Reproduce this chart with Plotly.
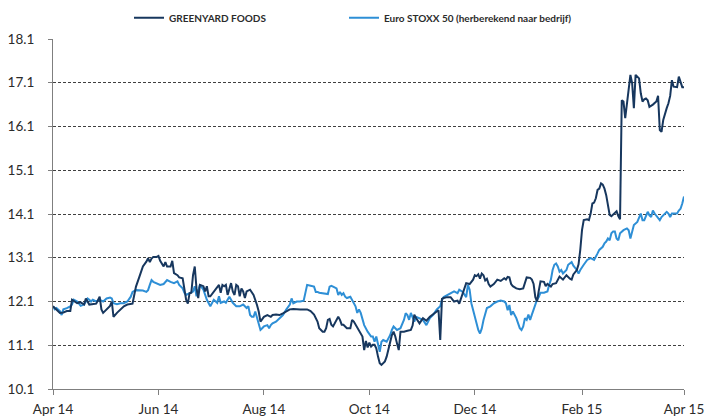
import pandas as pd
import plotly.graph_objects as go

START = "2014-04-01"

# Greenyard Foods: day offset from 1 Apr 2014, share price
gy_days = [0,2,4,6,8,10,11,14,16,18,19,21,23,25,27,28,29,31,33,34,35,37,39,41,43,45,46,47,48,50,52,54,55,56,57,58,60,61,62,64,65,66,68,69,70,72,73,75,76,77,78,79,80,81,82,83,84,85,87,88,89,90,91,93,95,96,97,98,99,100,101,102,103,104,105,106,107,108,109,110,111,112,114,116,117,118,119,120,122,124,126,127,129,131,133,135,137,139,141,143,145,147,149,151,153,154,156,157,158,159,160,161,162,163,164,165,166,167,168,169,170,172,173,174,175,176,178,179,180,181,182,183,184,185,186,187,188,189,190,191,192,193,194,195,196,197,198,199,200,201,203,205,207,208,209,210,212,214,216,218,220,222,223,224,225,226,228,230,232,234,235,237,239,241,243,244,245,246,247,248,249,250,251,252,253,255,257,259,261,262,263,264,265,266,268,270,272,274,276,277,278,279,280,281,282,284,285,286,288,289,291,293,295,297,298,299,300,301,303,304,305,306,307,309,310,311,312,313,314,315,316,317,318,319,320,321,322,323,324,325,326,327,328,329,330,331,332,333,334,335,336,337,339,340,341,342,343,344,345,347,349,350,351,352,353,355,356,357,358,359,360,361,362,364,365]
gy_values = [11.99,11.92,11.84,11.85,11.88,11.88,12.14,12.06,12.08,12.03,12.17,12.03,12.04,12.05,12.21,11.92,11.84,11.92,12.0,12.1,11.75,11.84,11.92,11.99,12.03,12.04,12.05,12.25,12.44,12.67,12.9,13.01,13.09,13.0,13.08,13.12,13.12,13.14,13.03,12.9,13.0,12.9,12.9,13.03,12.75,12.7,12.65,12.63,12.4,12.14,12.05,12.29,12.3,12.7,12.9,12.4,12.18,12.48,12.45,12.33,12.45,12.22,12.22,12.33,12.45,12.48,12.3,12.48,12.45,12.48,12.25,12.4,12.52,12.33,12.25,12.48,12.45,12.22,12.4,12.33,12.18,12.33,12.37,12.25,12.14,12.02,11.87,11.64,11.75,11.79,11.75,11.79,11.8,11.79,11.83,11.87,11.92,11.93,11.92,11.92,11.92,11.92,11.88,11.8,11.64,11.49,11.41,11.41,11.49,11.68,11.7,11.57,11.53,11.6,11.68,11.75,11.68,11.57,11.57,11.53,11.49,11.49,11.68,11.64,11.57,11.53,11.38,11.3,10.99,11.2,11.05,11.16,11.07,11.11,11.11,11.03,10.84,10.69,10.65,10.69,10.73,10.84,10.99,11.2,11.33,11.41,11.3,11.14,10.99,11.41,11.41,11.43,11.45,11.55,11.8,11.72,11.6,11.72,11.66,11.75,11.82,11.87,11.9,11.22,12.16,12.18,12.2,12.2,12.1,12.12,12.05,12.3,12.52,12.5,12.6,12.7,12.68,12.72,12.62,12.74,12.7,12.58,12.62,12.5,12.44,12.5,12.6,12.57,12.63,12.6,12.66,12.65,12.5,12.45,12.4,12.38,12.4,12.65,12.64,12.6,12.5,12.2,12.1,12.35,12.56,12.55,12.45,12.5,12.44,12.5,12.52,12.67,12.6,12.7,12.65,12.62,12.6,12.72,12.82,12.95,13.28,13.73,13.96,13.98,13.96,14.11,14.34,14.36,14.46,14.65,14.68,14.8,14.77,14.68,14.53,14.27,14.08,14.05,14.08,14.12,14.16,14.05,13.98,16.7,16.67,16.29,16.6,16.86,17.28,17.09,16.52,17.28,17.2,16.86,16.67,16.72,16.74,16.7,16.55,16.6,16.67,16.8,16.02,15.98,16.25,16.52,16.63,16.8,17.16,17.01,17.0,17.0,17.24,17.0,17.0,16.92]

# Euro STOXX 50 (rebased to company)
es_days = [0,1,2,4,5,6,8,10,11,12,14,16,18,19,20,21,22,23,25,27,29,31,33,34,35,37,39,41,43,45,46,48,50,52,54,55,56,57,58,60,62,64,66,68,70,72,73,75,76,77,79,81,82,83,85,87,89,91,93,95,96,97,99,100,102,104,106,108,110,112,113,114,115,116,117,118,119,120,121,122,124,125,126,127,129,131,133,135,137,138,139,141,143,145,146,147,149,151,152,153,154,156,158,159,160,161,162,164,165,166,167,168,169,170,172,173,174,175,176,177,178,179,180,182,184,185,186,187,188,189,190,191,193,195,196,197,199,201,203,204,205,206,207,209,210,212,214,216,218,220,222,224,225,226,228,230,232,234,235,237,239,240,241,242,243,244,245,246,247,248,249,250,251,253,255,257,259,261,262,263,264,265,266,268,269,270,271,272,273,274,275,276,277,278,279,280,281,282,284,286,287,288,289,290,291,292,293,294,295,296,297,298,299,300,301,303,304,305,307,309,311,313,315,316,318,319,320,321,322,323,324,325,326,327,328,330,332,333,334,335,336,338,339,340,341,342,344,345,346,347,348,350,351,352,354,355,356,357,358,360,361,362,363,364,365]
es_values = [11.99,11.92,11.95,11.88,11.79,11.92,11.95,11.99,12.03,12.14,12.1,12.0,12.03,12.1,12.17,12.14,12.1,12.14,12.1,12.14,12.1,12.17,12.19,12.17,12.06,12.04,12.06,12.06,12.1,12.21,12.32,12.36,12.36,12.35,12.32,12.36,12.48,12.59,12.55,12.52,12.48,12.5,12.59,12.55,12.52,12.56,12.48,12.4,12.3,12.25,12.3,12.33,12.45,12.22,12.48,12.37,12.14,11.99,12.14,12.07,12.22,12.07,12.1,12.07,12.21,12.07,11.99,11.99,12.03,11.95,11.99,11.79,11.75,11.75,11.87,11.72,11.56,11.45,11.49,11.53,11.56,11.49,11.56,11.6,11.64,11.72,11.79,11.92,12.03,12.17,12.06,12.1,12.1,12.12,12.29,12.48,12.46,12.44,12.32,12.32,12.3,12.29,12.29,12.27,12.44,12.46,12.44,12.4,12.25,12.32,12.25,12.29,12.21,12.18,12.21,12.14,12.06,11.99,11.84,11.92,11.84,11.72,11.56,11.41,11.3,11.3,11.18,11.3,11.14,10.95,11.18,11.22,11.18,11.33,11.45,11.53,11.45,11.49,11.68,11.83,11.79,11.68,11.84,11.64,11.75,11.72,11.68,11.56,11.72,11.8,11.92,11.99,12.14,12.2,12.25,12.29,12.33,12.29,12.37,12.32,12.2,12.48,12.37,12.06,11.9,11.75,11.6,11.45,11.37,11.48,11.67,11.83,11.95,11.99,12.06,12.1,12.12,12.1,12.06,11.9,12.02,11.79,11.87,11.72,11.6,11.49,11.45,11.53,11.72,11.68,11.8,11.68,11.8,11.92,11.99,12.14,12.2,12.3,12.3,12.33,12.48,12.6,12.82,12.94,12.97,12.9,12.78,12.82,12.74,12.78,12.82,12.94,12.97,13.0,12.92,12.82,12.74,12.82,12.94,13.05,13.09,13.05,13.2,13.28,13.35,13.43,13.47,13.54,13.5,13.66,13.7,13.7,13.54,13.5,13.66,13.73,13.77,13.73,13.54,13.73,13.85,13.92,14.03,14.11,13.96,13.96,14.15,14.07,14.03,14.18,14.11,13.99,13.96,14.03,14.11,14.15,14.11,14.03,14.11,14.11,14.11,14.18,14.22,14.34,14.5]

series_names = ["GREENYARD FOODS", "Euro STOXX 50 (herberekend naar bedrijf)"]
x_tick_dates = ["2014-04-01", "2014-06-01", "2014-08-01", "2014-10-01", "2014-12-01", "2015-02-01", "2015-04-01"]
x_tick_labels = ["Apr 14", "Jun 14", "Aug 14", "Oct 14", "Dec 14", "Feb 15", "Apr 15"]
y_ticks = [10.1, 11.1, 12.1, 13.1, 14.1, 15.1, 16.1, 17.1, 18.1]

start = pd.Timestamp(START)
gy_dates = [start + pd.Timedelta(days=d) for d in gy_days]
es_dates = [start + pd.Timedelta(days=d) for d in es_days]

DARK = "#17375E"
LIGHT = "#2E8FD6"
FONT = "Lato, 'Open Sans', sans-serif"
TXT = "#2b2b2b"

fig = go.Figure()
fig.add_trace(go.Scatter(x=es_dates, y=es_values, mode="lines", name=series_names[1],
                         line=dict(color=LIGHT, width=2), legend="legend2"))
fig.add_trace(go.Scatter(x=gy_dates, y=gy_values, mode="lines", name=series_names[0],
                         line=dict(color=DARK, width=2), legend="legend"))

legend_common = dict(orientation="h", xanchor="left", yanchor="middle",
                     xref="container", yref="container", y=1 - 17.7 / 418,
                     font=dict(size=10, color=TXT, family=FONT, weight="bold"),
                     itemwidth=30, bgcolor="rgba(0,0,0,0)")

fig.update_layout(
    width=707, height=418,
    margin=dict(l=53, r=23, t=39, b=29),
    paper_bgcolor="white", plot_bgcolor="white",
    font=dict(family=FONT, size=13, color=TXT),
    legend=dict(x=129 / 707, **legend_common),
    legend2=dict(x=344 / 707, **legend_common),
    showlegend=True,
)
fig.update_xaxes(
    type="date", range=[x_tick_dates[0], x_tick_dates[-1]],
    tickvals=x_tick_dates, ticktext=x_tick_labels, automargin=False,
    showgrid=False, showline=True, linecolor="#7f7f7f", linewidth=1,
    ticks="outside", ticklen=5, tickcolor="#7f7f7f", zeroline=False,
    tickfont=dict(size=13.5, color=TXT), ticklabelstandoff=3,
)
fig.update_yaxes(
    range=[10.1, 18.1], tickvals=y_ticks, tickformat=".1f", automargin=False,
    showgrid=True, gridcolor="#404040", gridwidth=0.8, griddash="3px,2px",
    showline=True, linecolor="#7f7f7f", linewidth=1,
    ticks="outside", ticklen=4, tickcolor="#7f7f7f", zeroline=False,
    tickfont=dict(size=13.5, color=TXT), ticklabelstandoff=11,
)

fig.write_html("out.html", config={"displayModeBar": False},
               post_script="document.body.style.margin='0';document.body.style.overflow='hidden';")
